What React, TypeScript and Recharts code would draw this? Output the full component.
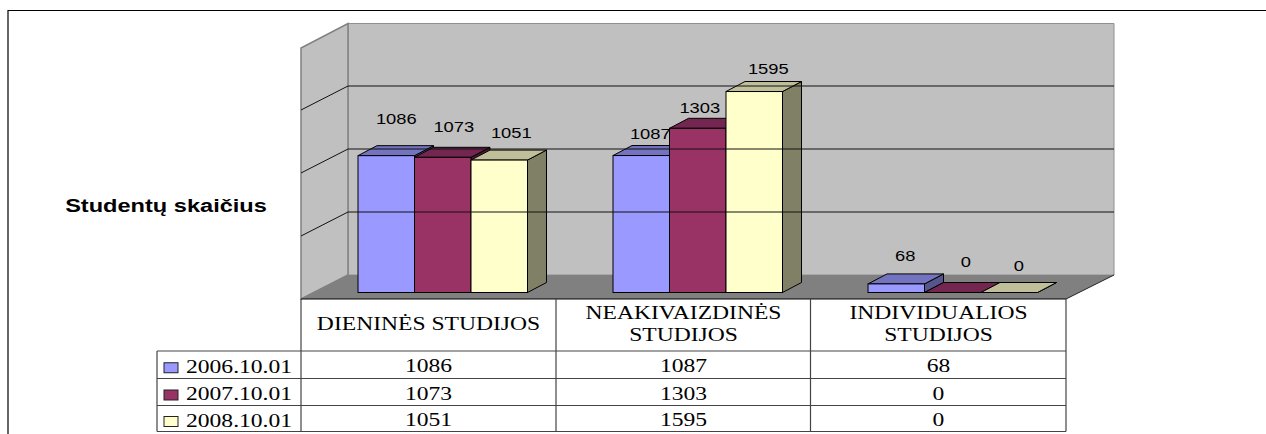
import { BarChart, Bar, XAxis, YAxis, LabelList } from 'recharts';

const categories = ['DIENINĖS STUDIJOS', 'NEAKIVAIZDINĖS STUDIJOS', 'INDIVIDUALIOS STUDIJOS'];
const seriesNames = ['2006.10.01', '2007.10.01', '2008.10.01'];
const values2006 = [1086, 1087, 68];
const values2007 = [1073, 1303, 0];
const values2008 = [1051, 1595, 0];
const yTicks = [0, 500, 1000, 1500, 2000];
const yTitle = 'Studentų skaičius';

const allValues = [values2006, values2007, values2008];
const data = categories.map((name, i) => ({
  name,
  s0: values2006[i],
  s1: values2007[i],
  s2: values2008[i],
}));

// front, top and side face of each series
const faces = [
  ['#9999ff', '#7373bf', '#56568f'],
  ['#993366', '#732650', '#4d1a33'],
  ['#ffffcc', '#bfbf99', '#808066'],
];

// plot area is the plane of the bar fronts, the walls sit behind it
const WIDTH = 1266;
const HEIGHT = 434;
const PLOT_TOP = 40.5;
const PLOT_BOTTOM = 292.5;
const PLOT_LEFT = 315;
const PLOT_RIGHT = 1080;
const TABLE_LEFT = 301;
const TABLE_RIGHT = 1066;
const LEGEND_LEFT = 157;
const BACK_LEFT = 348;
const BACK_RIGHT = 1114;
const BACK_SHIFT = -17.5;
const FRONT_SHIFT = 6.5;
const COLUMN_SHIFT = PLOT_LEFT - TABLE_LEFT;
const BAR_DX = 19;
const BAR_DY = -10;
const ROW_LINES = [351, 378.5, 405.5, 431.5];
const STRETCH = 1.31;

const labelNudge = [
  [[10, -37], [9, -22], [9, -28]],
  [[11, -30], [2, -20], [13, -31]],
  [[12, -27], [14, -23], [9.5, -27]],
];

const SERIF = '"Liberation Serif", serif';
const SANS = '"Liberation Sans", sans-serif';

function Wide({ x, y, size, family, weight, anchor = 'middle', children }: any) {
  return (
    <text
      transform={`translate(${x},${y}) scale(${STRETCH},1)`}
      textAnchor={anchor}
      dominantBaseline="central"
      fontSize={size}
      fontFamily={family}
      fontWeight={weight}
      fill="#000"
    >
      {children}
    </text>
  );
}

function Bar3D({ x, y, width, height, series }: any) {
  const [front, top, side] = faces[series];
  const right = x + width;
  const bottom = y + height;
  return (
    <g stroke="#000" strokeWidth={1}>
      <polygon
        points={`${right},${y} ${right + BAR_DX},${y + BAR_DY} ${right + BAR_DX},${bottom + BAR_DY} ${right},${bottom}`}
        fill={side}
      />
      <polygon
        points={`${x},${y} ${x + BAR_DX},${y + BAR_DY} ${right + BAR_DX},${y + BAR_DY} ${right},${y}`}
        fill={top}
      />
      {height > 0 && <rect x={x} y={y} width={width} height={height} fill={front} />}
    </g>
  );
}

// grid lines on the side and back wall, placed by the value axis
function GridTick({ y, payload }: any) {
  if (payload.value === 0 || payload.value === 2000) return <g />;
  const back = y + BACK_SHIFT;
  const front = y + FRONT_SHIFT;
  return (
    <g stroke="#111" strokeWidth={1} fill="none">
      <line x1={TABLE_LEFT} y1={front} x2={BACK_LEFT} y2={back} />
      <line x1={BACK_LEFT} y1={back} x2={BACK_RIGHT} y2={back} />
    </g>
  );
}

// one column of the data table, placed by the category axis
function TableColumn({ x, payload }: any) {
  const cx = x - COLUMN_SHIFT;
  const col = categories.indexOf(payload.value);
  const name: string = payload.value;
  const lines = name.length > 17 ? name.split(' ') : [name];
  return (
    <g>
      {lines.length === 1 ? (
        <Wide x={cx} y={324} size={18} family={SERIF}>{lines[0]}</Wide>
      ) : (
        lines.map((line, i) => (
          <Wide key={line} x={cx} y={313 + i * 22} size={18} family={SERIF}>{line}</Wide>
        ))
      )}
      {allValues.map((vals, row) => (
        <Wide key={row} x={cx} y={(ROW_LINES[row] + ROW_LINES[row + 1]) / 2 + 1.5} size={18} family={SERIF}>
          {vals[col]}
        </Wide>
      ))}
    </g>
  );
}

function ValueLabel({ x, y, width, value, index, series }: any) {
  const [dx, dy] = labelNudge[series][index];
  return (
    <Wide x={x + width / 2 + dx} y={y + dy} size={14} family={SANS}>{value}</Wide>
  );
}

export default function App() {
  const columnLines = [TABLE_LEFT, 556, 810.5, TABLE_RIGHT];
  return (
    <div style={{ position: 'absolute', left: 0, top: 0, width: WIDTH, height: HEIGHT, background: '#fff' }}>
      <svg width={WIDTH} height={HEIGHT} style={{ position: 'absolute', left: 0, top: 0 }}>
        <path d={`M8 ${HEIGHT} V10.5 H${WIDTH}`} fill="none" stroke="#000" strokeWidth={1.2} />
        <polygon
          points={`${BACK_LEFT},23.5 ${BACK_RIGHT},23.5 ${BACK_RIGHT},275 ${BACK_LEFT},275`}
          fill="#c0c0c0"
          stroke="#909090"
        />
        <polygon
          points={`${TABLE_LEFT},299 ${TABLE_LEFT},48 ${BACK_LEFT},23.5 ${BACK_LEFT},275`}
          fill="#c0c0c0"
          stroke="#808080"
          strokeWidth={1.5}
        />
        <polygon
          points={`${TABLE_LEFT},299 ${BACK_LEFT},275 ${BACK_RIGHT},275 ${TABLE_RIGHT},299`}
          fill="#808080"
        />
        <line x1={TABLE_RIGHT} y1={299} x2={BACK_RIGHT} y2={275} stroke="#222" />
      </svg>
      <BarChart
        width={WIDTH}
        height={HEIGHT}
        data={data}
        margin={{ top: PLOT_TOP, bottom: HEIGHT - PLOT_BOTTOM - 1, left: PLOT_LEFT - 1, right: WIDTH - PLOT_RIGHT }}
        barSize={56.5}
        barGap={0}
        style={{ position: 'absolute', left: 0, top: 0 }}
      >
        <XAxis
          dataKey="name"
          height={1}
          axisLine={false}
          tickLine={false}
          interval={0}
          tick={(p: any) => <TableColumn {...p} />}
        />
        <YAxis
          width={1}
          domain={[0, 2000]}
          ticks={yTicks}
          interval={0}
          axisLine={false}
          tickLine={false}
          tick={(p: any) => <GridTick {...p} />}
        />
        {seriesNames.map((name, s) => (
          <Bar
            key={name}
            dataKey={`s${s}`}
            name={name}
            fill={faces[s][0]}
            isAnimationActive={false}
            shape={(p: any) => <Bar3D {...p} series={s} />}
          >
            <LabelList dataKey={`s${s}`} content={(p: any) => <ValueLabel {...p} series={s} />} />
          </Bar>
        ))}
        <g>
          <Wide x={166} y={206} size={18} family={SANS} weight="bold">{yTitle}</Wide>
          <g stroke="#444" strokeWidth={1.2} fill="none">
            <line x1={TABLE_LEFT} y1={299} x2={TABLE_RIGHT} y2={299} stroke="#000" />
            {columnLines.map((cx) => (
              <line key={cx} x1={cx} y1={299} x2={cx} y2={ROW_LINES[3]} />
            ))}
            <line x1={LEGEND_LEFT} y1={ROW_LINES[0]} x2={LEGEND_LEFT} y2={ROW_LINES[3]} />
            {ROW_LINES.map((ry) => (
              <line key={ry} x1={LEGEND_LEFT} y1={ry} x2={TABLE_RIGHT} y2={ry} />
            ))}
          </g>
          {seriesNames.map((name, s) => {
            const mid = (ROW_LINES[s] + ROW_LINES[s + 1]) / 2;
            return (
              <g key={name}>
                <rect x={164} y={mid - 2} width={14} height={10} fill={faces[s][0]} stroke="#222" />
                <Wide x={186} y={mid + 2} size={18} family={SERIF} anchor="start">{name}</Wide>
              </g>
            );
          })}
        </g>
      </BarChart>
    </div>
  );
}
